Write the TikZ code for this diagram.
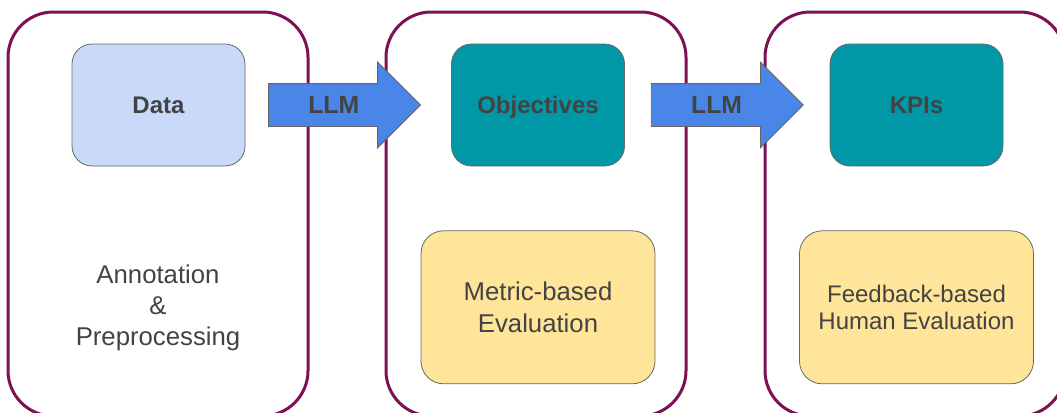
\documentclass[tikz,border=0pt]{standalone}
\usepackage{fontspec}
\setmainfont{Liberation Sans}
\usetikzlibrary{positioning,shapes.arrows}
\definecolor{stagerim}{HTML}{7E1054}
\definecolor{datafill}{HTML}{C9DAF8}
\definecolor{tealfill}{HTML}{0097A7}
\definecolor{evalfill}{HTML}{FFE599}
\definecolor{llmblue}{HTML}{4A86E8}
\definecolor{ink}{HTML}{434343}
\definecolor{edge}{HTML}{666666}

\begin{document}
\begin{tikzpicture}[x=0.75pt,y=-0.75pt,
  stage/.style={draw=stagerim,line width=2.25pt,rounded corners=34pt,minimum width=225pt,minimum height=303pt,inner sep=0pt},
  topbox/.style={draw=edge,line width=0.6pt,rounded corners=15pt,minimum width=129.75pt,minimum height=91.5pt,text height=15pt,text depth=2.1pt,text=ink,font=\fontsize{18}{22}\selectfont\bfseries},
  evalbox/.style={draw=edge,line width=0.6pt,fill=evalfill,rounded corners=17pt,minimum width=175.5pt,minimum height=114.75pt,text=ink,align=center},
  llmarrow/.style={single arrow,draw=edge,line width=0.6pt,fill=llmblue,anchor=tail,minimum height=114pt,inner ysep=0pt,inner xsep=22pt,single arrow head extend=16.1pt,single arrow tip angle=90,text height=22.4pt,text depth=9.1pt,text=ink,font=\fontsize{18.6}{22}\selectfont\bfseries}]
\useasboundingbox (0,0) rectangle (1057,412);

% the three stages
\node[stage] (prepstage) at (158,214) {};
\node[stage] (objstage) at (536,214) {};
\node[stage] (kpistage) at (915,214) {};

\node[topbox,fill=datafill] (data) at (158.5,105) {Data};
\node[topbox,fill=tealfill] (obj) at (538,105) {Objectives};
\node[topbox,fill=tealfill] (kpi) at (916.5,105) {KPIs};

\node[evalbox,below=48pt of obj,font=\fontsize{19.3}{23.8}\selectfont] (metric) {Metric-based\\Evaluation};
\node[evalbox,below=48pt of kpi,font=\fontsize{18}{20}\selectfont] (feedback) {Feedback-based\\Human Evaluation};
\node[align=center,text=ink,font=\fontsize{19.3}{23.25}\selectfont] (annot) at (158,308) {Annotation\\\&\\Preprocessing};

% LLM steps between the stages
\node[llmarrow] (llm1) at ([xshift=17pt]data.east) {LLM};
\node[llmarrow] (llm2) at ([xshift=19.5pt]obj.east) {LLM};
\end{tikzpicture}
\end{document}
